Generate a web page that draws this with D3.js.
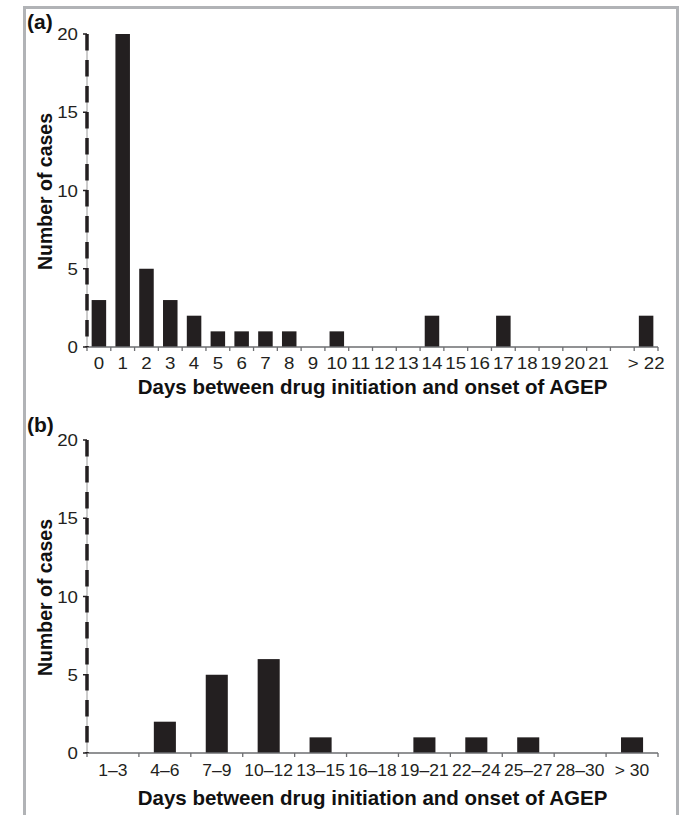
<!DOCTYPE html>
<html><head><meta charset="utf-8">
<script src="https://cdn.jsdelivr.net/npm/d3@7/dist/d3.min.js"></script>
<style>body{margin:0;background:#fff} svg{display:block}</style>
</head><body>
<svg id="c" width="683" height="815"></svg>
<script>
// ---- data ----
const catsA = ["0","1","2","3","4","5","6","7","8","9","10","11","12","13","14","15","16","17","18","19","20","21","","> 22"];
const valsA = [3,20,5,3,2,1,1,1,1,0,1,0,0,0,2,0,0,2,0,0,0,0,0,2];
const catsB = ["1–3","4–6","7–9","10–12","13–15","16–18","19–21","22–24","25–27","28–30","> 30"];
const valsB = [0,2,5,6,1,0,1,1,1,0,1];
const yTicks = [0,5,10,15,20];
const panelLabels = ["(a)","(b)"];
const xTitle = "Days between drug initiation and onset of AGEP";
const yTitle = "Number of cases";

const FONT = "'Liberation Sans', Arial, Helvetica, sans-serif";
const INK = "#231f20";
const svg = d3.select("#c");

// frame
svg.append("path")
  .attr("d", "M24.5,815 V7.5 H677.5 V815")
  .attr("fill","none").attr("stroke","#b1b3b6").attr("stroke-width",3);

const panels = [
  {cats: catsA, vals: valsA, label: panelLabels[0], top: 34, bottom: 347, barPad: 0.39,
   tickBase: 369, titleBase: 394, labelBase: 29, sx: 1.1},
  {cats: catsB, vals: valsB, label: panelLabels[1], top: 440, bottom: 753, barPad: 0.575,
   tickBase: 776, titleBase: 805, labelBase: 431.5, sx: 1.03}
];

const x0 = 87, x1 = 658;

panels.forEach(p => {
  const g = svg.append("g");
  const y = d3.scaleLinear().domain([0, 20]).range([p.bottom, p.top]);
  const xb = d3.scaleBand().domain(p.cats).range([x0, x1]).padding(0);
  const xbar = d3.scaleBand().domain(p.cats).range([x0, x1])
      .paddingInner(p.barPad).paddingOuter(p.barPad / 2);

  // bars
  g.selectAll("rect.bar").data(p.cats.map((c, i) => ({c, v: p.vals[i]})).filter(d => d.v > 0))
    .enter().append("rect")
    .attr("x", d => xbar(d.c))
    .attr("width", xbar.bandwidth())
    .attr("y", d => y(d.v))
    .attr("height", d => y(0) - y(d.v))
    .attr("fill", INK);

  // x axis line
  g.append("line").attr("x1", x0).attr("x2", x1).attr("y1", y(0)).attr("y2", y(0))
    .attr("stroke", "#6d6e71").attr("stroke-width", 1.3);
  // edge ticks
  const edges = p.cats.map(c => xb(c)).concat([x1]);
  g.selectAll("line.xt").data(edges).enter().append("line")
    .attr("x1", d => d).attr("x2", d => d)
    .attr("y1", y(0)).attr("y2", y(0) + 4)
    .attr("stroke", "#6d6e71").attr("stroke-width", 1.3);
  // tick labels
  g.selectAll("text.xl").data(p.cats).enter().append("text")
    .attr("transform", d => `translate(${xb(d) + xb.bandwidth() / 2},${p.tickBase}) scale(${p.sx},1)`)
    .attr("text-anchor", "middle")
    .attr("font-family", FONT).attr("font-size", 17).attr("fill", INK)
    .text(d => d);

  // y axis: thin gray line + thick dashes
  g.append("line").attr("x1", x0).attr("x2", x0).attr("y1", p.top).attr("y2", p.bottom)
    .attr("stroke", "#9a9a9a").attr("stroke-width", 1);
  g.append("line").attr("x1", x0).attr("x2", x0).attr("y1", p.top).attr("y2", p.bottom)
    .attr("stroke", INK).attr("stroke-width", 3.5).attr("stroke-dasharray", "16.5 9.5");
  g.selectAll("line.yt").data(yTicks).enter().append("line")
    .attr("x1", x0 - 4).attr("x2", x0).attr("y1", d => y(d)).attr("y2", d => y(d))
    .attr("stroke", INK).attr("stroke-width", 1.5);
  g.selectAll("text.yl").data(yTicks).enter().append("text")
    .attr("transform", d => `translate(78,${y(d)}) scale(1.1,1)`)
    .attr("dy", "0.36em")
    .attr("text-anchor", "end")
    .attr("font-family", FONT).attr("font-size", 17).attr("fill", INK)
    .text(d => d);

  // titles
  g.append("text")
    .attr("x", (x0 + x1) / 2).attr("y", p.titleBase)
    .attr("text-anchor", "middle")
    .attr("font-family", FONT).attr("font-size", 20.5).attr("font-weight", "bold").attr("fill", "#111")
    .text(xTitle);
  g.append("text")
    .attr("transform", `translate(51.5,${(p.top + p.bottom) / 2 + 1}) rotate(-90)`)
    .attr("text-anchor", "middle")
    .attr("font-family", FONT).attr("font-size", 19.5).attr("font-weight", "bold").attr("fill", "#111")
    .text(yTitle);
  g.append("text")
    .attr("x", 27).attr("y", p.labelBase)
    .attr("font-family", FONT).attr("font-size", 21).attr("font-weight", "bold").attr("fill", "#111")
    .text(p.label);
});
</script>
</body></html>
